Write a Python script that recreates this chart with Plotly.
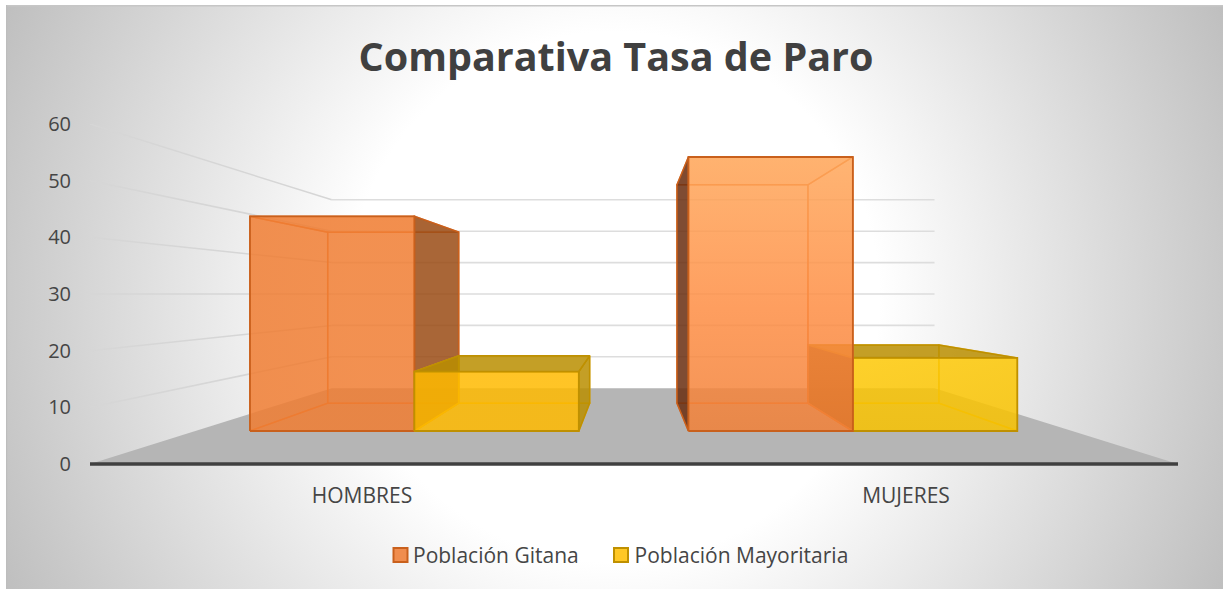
"""Comparativa Tasa de Paro: 3D-look column chart drawn on plain Plotly axes."""

import base64

import plotly.graph_objects as go

# ── Data ────────────────────────────────────────────────────────────

CATEGORIES = ["HOMBRES", "MUJERES"]
GITANA = [47, 60]
MAYORITARIA = [13, 16]
VALUE_TICKS = [0, 10, 20, 30, 40, 50, 60]
SERIES_NAMES = ["Población Gitana\u00a0\u00a0", "Población Mayoritaria"]

# ── Perspective ─────────────────────────────────────────────────────

WIDTH, HEIGHT = 1223, 589
MARGIN = dict(l=90, r=45, t=124, b=121)
Y_RANGE = [-0.706, 60]  # a little below zero, so the base line is not cut in half

VANISH_X = 0.9965  # about the middle of the two categories
VANISH_Y = 30.0  # eye height, in value units
WALL_SCALE = 0.554
BAR_BACK_SCALE = 0.642
BAR_FRONT_SCALE = 0.806
BAR_WIDTH = 0.375

TEXT = "#454545"
FONT = "Open Sans, sans-serif"

STYLES = {
    "gitana": dict(
        edge="#C9601C",
        inner="rgba(226,110,35,0.75)",
        shade_right="rgba(154,75,20,0.85)",
        shade_left="rgba(105,45,15,0.85)",
        top="rgba(237,125,49,0.10)",
        swatch="#F08D4E",
    ),
    "mayoritaria": dict(
        edge="#BF9000",
        inner="rgba(225,170,0,0.75)",
        shade_right="rgba(186,142,0,0.85)",
        shade_left="rgba(130,80,0,0.95)",
        top="rgba(186,142,0,0.85)",
        swatch="#FFC825",
    ),
}

# front face colour, one per category
FRONT_FILLS = {
    "gitana": [
        [[0, "rgba(240,125,50,0.85)"], [1, "rgba(240,125,50,0.85)"]],
        [[0, "rgba(241,128,55,0.85)"], [0.45, "rgba(254,141,67,0.85)"], [1, "rgba(255,167,90,0.85)"]],
    ],
    "mayoritaria": [
        [[0, "rgba(255,186,0,0.85)"], [1, "rgba(255,186,0,0.85)"]],
        [[0, "rgba(248,194,0,0.85)"], [1, "rgba(253,200,5,0.85)"]],
    ],
}


def project(x, value, scale):
    """Map a point at some depth onto the front plane of the axes."""
    return (VANISH_X + (x - VANISH_X) * scale, VANISH_Y + (value - VANISH_Y) * scale)


def add_polygon(fig, corners, fill=None, edge=None, edge_width=1.5, gradient=None):
    xs = [c[0] for c in corners] + [corners[0][0]]
    ys = [c[1] for c in corners] + [corners[0][1]]
    kwargs = dict(fillgradient=dict(type="vertical", colorscale=gradient)) if gradient else dict(fillcolor=fill)
    fig.add_trace(go.Scatter(
        x=xs, y=ys,
        mode="lines",
        fill="toself",
        line=dict(color=edge or "rgba(0,0,0,0)", width=edge_width if edge else 0),
        hoverinfo="skip",
        showlegend=False,
        **kwargs,
    ))


def add_box(fig, x0, x1, value, style, front_fill):
    """Draw one column back to front, from its value."""
    fl = [project(x0, 0, BAR_FRONT_SCALE), project(x1, 0, BAR_FRONT_SCALE),
          project(x1, value, BAR_FRONT_SCALE), project(x0, value, BAR_FRONT_SCALE)]
    bk = [project(x0, 0, BAR_BACK_SCALE), project(x1, 0, BAR_BACK_SCALE),
          project(x1, value, BAR_BACK_SCALE), project(x0, value, BAR_BACK_SCALE)]
    no_fill = "rgba(0,0,0,0)"

    add_polygon(fig, bk, no_fill, style["inner"])
    add_polygon(fig, [fl[0], fl[1], bk[1], bk[0]], no_fill, style["inner"])

    right_side = [fl[1], bk[1], bk[2], fl[2]]
    left_side = [fl[0], bk[0], bk[3], fl[3]]
    if x1 <= VANISH_X:
        outer, hidden, shade = right_side, left_side, style["shade_right"]
    else:
        outer, hidden, shade = left_side, right_side, style["shade_left"]
    add_polygon(fig, hidden, no_fill, style["inner"])
    add_polygon(fig, [fl[3], fl[2], bk[2], bk[3]], style["top"], style["edge"] if value < VANISH_Y else style["inner"])
    add_polygon(fig, outer, shade, style["edge"])
    add_polygon(fig, fl, edge=style["edge"], edge_width=1.8, gradient=front_fill)


def background_image():
    """Grey-to-white radial panel, as an inline SVG."""
    svg = (
        f'<svg xmlns="http://www.w3.org/2000/svg" width="{WIDTH}" height="{HEIGHT}">'
        '<defs><radialGradient id="g" gradientUnits="userSpaceOnUse" cx="614" cy="297" r="680">'
        '<stop offset="0.39" stop-color="#FFFFFF"/><stop offset="1" stop-color="#BEBEBE"/>'
        '</radialGradient></defs>'
        f'<rect x="6" y="5" width="{WIDTH}" height="{HEIGHT}" fill="url(#g)"/>'
        f'<rect x="6" y="5" width="{WIDTH}" height="1.5" fill="#C6C6C6"/>'
        f'<rect x="6" y="5" width="1.2" height="{HEIGHT}" fill="#BDBDBD"/>'
        '</svg>'
    )
    return "data:image/svg+xml;base64," + base64.b64encode(svg.encode()).decode()


fig = go.Figure()

# ── Floor and walls ─────────────────────────────────────────────────

add_polygon(fig, [project(0, 0, 1), project(2, 0, 1), project(2, 0, WALL_SCALE), project(0, 0, WALL_SCALE)], "#B5B5B5")

for tick in VALUE_TICKS[1:]:
    back_left = project(0, tick, WALL_SCALE)
    back_right = project(2, tick, WALL_SCALE)
    fig.add_trace(go.Scatter(
        x=[0, back_left[0]], y=[tick, back_left[1]],
        mode="lines",
        line=dict(color="#D6D6D6", width=1.5),
        hoverinfo="skip",
        showlegend=False,
    ))
    fig.add_trace(go.Scatter(
        x=[back_left[0], back_right[0]], y=[back_left[1], back_right[1]],
        mode="lines",
        line=dict(color="#DDDDDD", width=1.6),
        hoverinfo="skip",
        showlegend=False,
    ))

# ── Columns ─────────────────────────────────────────────────────────

for i, center in enumerate([0.5, 1.5]):
    pairs = [("gitana", GITANA, center - BAR_WIDTH), ("mayoritaria", MAYORITARIA, center)]
    # paint the column nearer the middle of the view last
    if center > VANISH_X:
        pairs.reverse()
    for key, values, left in pairs:
        add_box(fig, left, left + BAR_WIDTH, values[i], STYLES[key], FRONT_FILLS[key][i])

# base line along the front of the floor
fig.add_trace(go.Scatter(
    x=[0, 2], y=[0, 0],
    mode="lines",
    line=dict(color="#404040", width=3.5),
    hoverinfo="skip",
    showlegend=False,
))

# ── Legend entries ──────────────────────────────────────────────────

# plotly leaves a wide gap before legend text, so the swatches are shapes
for name in SERIES_NAMES:
    fig.add_trace(go.Scatter(
        x=[None], y=[None],
        mode="markers",
        name=name,
        marker=dict(symbol="square", size=13, color="rgba(0,0,0,0)"),
    ))

plot_w = WIDTH - MARGIN["l"] - MARGIN["r"]
plot_h = HEIGHT - MARGIN["t"] - MARGIN["b"]


def paper_x(px):
    return (px - MARGIN["l"]) / plot_w


def paper_y(py):
    return 1 - (py - MARGIN["t"]) / plot_h


for key, left_px in zip(["gitana", "mayoritaria"], [393.5, 614]):
    fig.add_shape(
        type="rect", xref="paper", yref="paper",
        x0=paper_x(left_px), x1=paper_x(left_px + 14),
        y0=paper_y(562), y1=paper_y(548),
        fillcolor=STYLES[key]["swatch"],
        line=dict(color=STYLES[key]["edge"], width=2),
    )

fig.update_layout(
    width=WIDTH,
    height=HEIGHT,
    autosize=False,
    margin=dict(**MARGIN, pad=0),
    paper_bgcolor="#FFFFFF",
    plot_bgcolor="rgba(0,0,0,0)",
    font=dict(family=FONT, size=20, color=TEXT),
    title=dict(
        text="<b>Comparativa Tasa de Paro</b>",
        font=dict(family=FONT, size=39.5, color="#404040"),
        x=616 / WIDTH, xanchor="center",
        y=1 - 57 / HEIGHT, yanchor="middle",
    ),
    xaxis=dict(
        range=[0, 2],
        tickvals=[0.5, 1.5],
        ticktext=CATEGORIES,
        tickfont=dict(family=FONT, size=21, color=TEXT),
        showgrid=False,
        zeroline=False,
        showline=False,
        ticks="",
        ticklabelstandoff=13,
        fixedrange=True,
    ),
    yaxis=dict(
        range=Y_RANGE,
        tickvals=VALUE_TICKS,
        tickfont=dict(family=FONT, size=20, color=TEXT),
        showgrid=False,
        zeroline=False,
        showline=False,
        ticks="",
        ticklabelstandoff=18,
        fixedrange=True,
    ),
    legend=dict(
        orientation="h",
        x=373 / WIDTH, xref="container", xanchor="left",
        y=1 - 555 / HEIGHT, yref="container", yanchor="middle",
        bgcolor="rgba(0,0,0,0)",
        font=dict(family=FONT, size=21, color=TEXT),
    ),
    images=[dict(
        source=background_image(),
        xref="paper", yref="paper",
        x=-MARGIN["l"] / plot_w, y=1 + MARGIN["t"] / plot_h,
        sizex=WIDTH / plot_w, sizey=HEIGHT / plot_h,
        xanchor="left", yanchor="top",
        sizing="stretch",
        layer="below",
    )],
)

fig.write_html(
    "out.html",
    config=dict(displayModeBar=False),
    post_script="document.body.style.margin='0';",
)
